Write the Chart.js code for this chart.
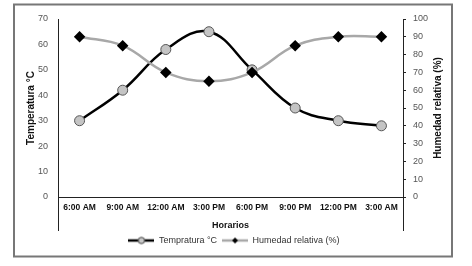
<!DOCTYPE html>
<html>
<head>
<meta charset="utf-8">
<script src="https://cdn.jsdelivr.net/npm/chart.js@4"></script>
<style>
  html, body { margin: 0; padding: 0; background: #fff; }
  #wrap { width: 472px; height: 266px; }
</style>
</head>
<body>
<div id="wrap"><canvas id="chart" width="472" height="266"></canvas></div>
<script>
// Temperature and relative humidity by time of day
const horarios = ['6:00 AM', '9:00 AM', '12:00 AM', '3:00 PM', '6:00 PM', '9:00 PM', '12:00 PM', '3:00 AM'];
const temperatura = [30, 42, 58, 65, 50, 35, 30, 28];
const humedad = [90, 85, 70, 65, 70, 85, 90, 90];
const tempTicks = { min: 0, max: 70, step: 10 };
const humTicks = { min: 0, max: 100, step: 10 };
const humTitle = 'Humedad relativa (%)';

const FONT = '"Liberation Sans", Arial, sans-serif';

// small legend swatches: line with its marker on top
function swatch(lineColor, draw) {
    const c = document.createElement('canvas');
    c.width = 26; c.height = 10;
    const g = c.getContext('2d');
    g.strokeStyle = lineColor;
    g.lineWidth = 2.5;
    g.beginPath(); g.moveTo(0, 5); g.lineTo(26, 5); g.stroke();
    draw(g);
    return c;
}
const tempSwatch = swatch('#000', g => {
    g.beginPath(); g.arc(13, 5, 3.2, 0, Math.PI * 2);
    g.fillStyle = '#c8c8c8'; g.fill();
    g.lineWidth = 1; g.strokeStyle = '#444'; g.stroke();
});
const humSwatch = swatch('#a8a8a8', g => {
    g.beginPath(); g.moveTo(13, 2); g.lineTo(16, 5); g.lineTo(13, 8); g.lineTo(10, 5); g.closePath();
    g.fillStyle = '#000'; g.fill();
});

// outer frame, axis lines running down past the category axis,
// and the right title (reads bottom-to-top like the left one)
const frame = {
    id: 'frame',
    beforeDraw(chart) {
        const ctx = chart.ctx;
        ctx.save();
        ctx.strokeStyle = '#777';
        ctx.lineWidth = 2;
        ctx.strokeRect(14, 4.5, 438, 252);
        ctx.restore();
    },
    afterDraw(chart) {
        const { ctx, chartArea: a } = chart;
        ctx.save();
        ctx.strokeStyle = '#222';
        ctx.lineWidth = 1;
        ctx.beginPath();
        ctx.moveTo(Math.round(a.left) + 0.5, a.bottom);
        ctx.lineTo(Math.round(a.left) + 0.5, a.bottom + 34);
        ctx.moveTo(Math.round(a.right) + 0.5, a.bottom);
        ctx.lineTo(Math.round(a.right) + 0.5, a.bottom + 34);
        ctx.stroke();

        const y1 = chart.scales.y1;
        ctx.translate(y1.right - 14, (a.top + a.bottom) / 2);
        ctx.rotate(-Math.PI / 2);
        ctx.font = 'bold 10px ' + FONT;
        ctx.fillStyle = '#111';
        ctx.textAlign = 'center';
        ctx.textBaseline = 'middle';
        ctx.fillText(humTitle, 0, 0);
        ctx.restore();
    }
};

new Chart(document.getElementById('chart'), {
    type: 'line',
    data: {
        labels: horarios,
        datasets: [{
            label: 'Tempratura °C',
            data: temperatura,
            yAxisID: 'y',
            borderColor: '#000',
            borderWidth: 2.5,
            pointBackgroundColor: '#c4c4c4',
            pointBorderColor: '#555',
            pointBorderWidth: 1,
            pointRadius: 5,
            pointStyle: 'circle',
            tension: 0.4,
            order: 2,
        }, {
            label: humTitle,
            data: humedad,
            yAxisID: 'y1',
            borderColor: '#a8a8a8',
            borderWidth: 2.5,
            pointBackgroundColor: '#000',
            pointBorderColor: '#000',
            pointRadius: 4,
            pointStyle: 'rectRot',
            tension: 0.4,
            order: 1,
        }],
    },
    options: {
        responsive: false,
        animation: false,
        layout: { padding: { left: 16, right: 20, top: 19, bottom: 11 } },
        plugins: {
            legend: {
                position: 'bottom',
                labels: {
                    color: '#333',
                    font: { family: FONT, size: 9 },
                    usePointStyle: true,
                    pointStyleWidth: 26,
                    boxHeight: 10,
                    padding: 5,
                    generateLabels: chart => chart.data.datasets.map((ds, i) => ({
                        text: ds.label,
                        pointStyle: i === 0 ? tempSwatch : humSwatch,
                        fillStyle: 'transparent',
                        strokeStyle: 'transparent',
                        lineWidth: 0,
                        datasetIndex: i,
                        fontColor: '#333',
                    })),
                },
            },
            tooltip: { enabled: false },
        },
        scales: {
            x: {
                offset: true,
                grid: { display: false, drawTicks: false },
                border: { color: '#222', width: 1 },
                ticks: {
                    color: '#111',
                    font: { family: FONT, size: 8.5, weight: 'bold' },
                    padding: 6,
                    maxRotation: 0,
                    autoSkip: false,
                },
                title: {
                    display: true,
                    text: 'Horarios',
                    color: '#111',
                    font: { family: FONT, size: 9, weight: 'bold' },
                    padding: { top: 4, bottom: 0 },
                },
                afterFit: s => { s.height = 34; },
            },
            y: {
                position: 'left',
                min: tempTicks.min,
                max: tempTicks.max,
                grid: { display: false, drawTicks: false },
                border: { color: '#222', width: 1 },
                ticks: {
                    stepSize: tempTicks.step,
                    color: '#555',
                    font: { family: FONT, size: 9 },
                    padding: 10,
                },
                title: {
                    display: true,
                    text: 'Temperatura °C',
                    color: '#111',
                    font: { family: FONT, size: 10, weight: 'bold' },
                    padding: { top: 9, bottom: 0 },
                },
                afterFit: s => { s.width = 42; },
            },
            y1: {
                position: 'right',
                min: humTicks.min,
                max: humTicks.max,
                grid: { display: true, drawOnChartArea: false, tickLength: 3, color: '#222' },
                border: { color: '#222', width: 1 },
                ticks: {
                    stepSize: humTicks.step,
                    color: '#555',
                    font: { family: FONT, size: 9 },
                    padding: 7,
                },
                afterFit: s => { s.width = 49; },
            },
        },
    },
    plugins: [frame],
});
</script>
</body>
</html>
